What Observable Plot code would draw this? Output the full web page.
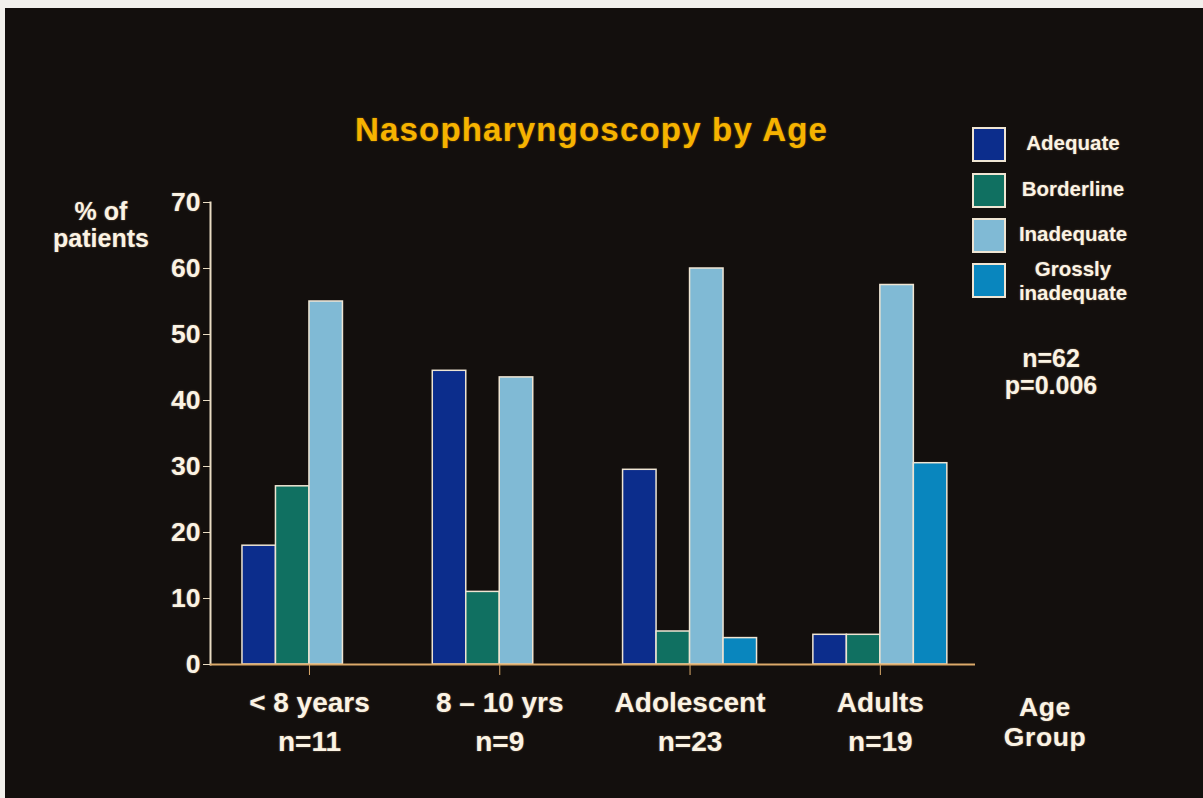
<!DOCTYPE html>
<html>
<head>
<meta charset="utf-8">
<script src="https://cdn.jsdelivr.net/npm/d3@7"></script>
<script src="https://cdn.jsdelivr.net/npm/@observablehq/plot@0.6"></script>
<style>
  html, body { margin: 0; padding: 0; background: #f2f0ec; }
  #page { position: relative; width: 1203px; height: 798px; overflow: hidden;
          font-family: "Liberation Sans", Arial, Helvetica, sans-serif; font-weight: bold; }
  #slide { position: absolute; left: 5px; top: 8px; width: 1198px; height: 790px; background: #130f0d; }
  #chart { position: absolute; left: 0; top: 0; }
  .txt { position: absolute; color: #fbf3e4; text-align: center; white-space: nowrap;
         text-shadow: 0 0 2px rgba(255, 215, 170, 0.45); }
  #title { left: 0; width: 1183px; top: 110px; font-size: 33px; line-height: 40px;
           color: #f6b300; letter-spacing: 1.2px; text-shadow: 0 0 2px rgba(255, 180, 0, 0.5); }
  .sw { position: absolute; left: 972px; width: 30px; height: 31px; border: 2px solid #efe5d3; }
  .lg { position: absolute; left: 1008px; width: 130px; font-size: 20.5px; line-height: 24px; }
  svg text { text-shadow: 0 0 2px rgba(255, 215, 170, 0.45); }
</style>
</head>
<body>
<div id="page">
  <div id="slide"></div>
  <div id="root"></div>
</div>
<script>
// Categories along the x axis and their sample sizes
const groups = ["< 8 years", "8 – 10 yrs", "Adolescent", "Adults"];
const groupN = ["n=11", "n=9", "n=23", "n=19"];

// Outcome series (legend order) and colours
const series = ["Adequate", "Borderline", "Inadequate", "Grossly inadequate"];
const seriesLegend = ["Adequate", "Borderline", "Inadequate", "Grossly\ninadequate"];
const colors = ["#0c2d8c", "#107061", "#80bad5", "#0986be"];

// % of patients per age group, one array per series (null = no bar)
const adequate   = [18, 44.5, 29.5, 4.5];
const borderline = [27, 11, 5, 4.5];
const inadequate = [55, 43.5, 60, 57.5];
const grossly    = [null, null, 4, 30.5];

// y axis ticks
const yTicks = [0, 10, 20, 30, 40, 50, 60, 70];

const seriesValues = [adequate, borderline, inadequate, grossly];
const rows = series.flatMap((s, j) =>
  seriesValues[j].map((v, i) => ({group: i, j, series: s, value: v}))
).filter(d => d.value != null);

// each group is one x unit wide; the four bars sit side by side around its centre
const BAR = 0.176;
const axisColor = "#e9dcc3";
const baseColor = "#dcaa6a";
const textColor = "#fbf3e4";

const chart = Plot.plot({
  width: 1203,
  height: 798,
  marginLeft: 210,
  marginRight: 228,
  marginTop: 202,
  marginBottom: 134,
  style: {
    background: "transparent",
    fontFamily: "'Liberation Sans', Arial, Helvetica, sans-serif",
    fontWeight: "bold",
    color: textColor,
    overflow: "visible"
  },
  x: {type: "linear", domain: [-0.02, 4]},
  y: {domain: [0, 70]},
  color: {domain: series, range: colors},
  marks: [
    Plot.rectY(rows, {
      x1: d => d.group + 0.5 + (d.j - 2) * BAR,
      x2: d => d.group + 0.5 + (d.j - 1) * BAR,
      y1: 0,
      y2: "value",
      fill: "series",
      stroke: "#efe5d3",
      strokeWidth: 1.5
    }),
    Plot.frame({anchor: "left", stroke: axisColor, strokeWidth: 2}),
    Plot.ruleY([0], {stroke: baseColor, strokeWidth: 2.2}),
    Plot.axisY({
      ticks: yTicks,
      tickSize: 7,
      tickPadding: 3,
      fontSize: 26.5,
      stroke: axisColor,
      fill: textColor,
      label: null
    }),
    Plot.axisX({
      ticks: groups.map((g, i) => i + 0.5),
      tickFormat: x => groups[Math.round(x - 0.5)] + "\n" + groupN[Math.round(x - 0.5)],
      tickSize: 11,
      tickPadding: 9,
      fontSize: 28,
      lineHeight: 1.39,
      stroke: baseColor,
      fill: textColor,
      label: null
    })
  ]
});
chart.id = "chart";
document.getElementById("root").appendChild(chart);

// Title, axis captions, legend and statistics as HTML text
const page = document.getElementById("page");
function addText(cls, text, style) {
  const el = document.createElement("div");
  el.className = cls;
  el.innerHTML = text.split("\n").join("<br>");
  Object.assign(el.style, style);
  page.appendChild(el);
  return el;
}

const title = addText("txt", "Nasopharyngoscopy by Age", {});
title.id = "title";

addText("txt", "% of\npatients", {left: "40px", width: "122px", top: "198px", fontSize: "25px", lineHeight: "27px"});
addText("txt", "n=62\np=0.006", {left: "991px", width: "120px", top: "345px", fontSize: "25px", lineHeight: "27px"});
addText("txt", "Age\nGroup", {left: "985px", width: "120px", top: "693px", fontSize: "26.5px", lineHeight: "29.5px", letterSpacing: "0.6px"});

const swatchTops = [127, 173, 218, 263];
series.forEach((s, j) => {
  const sw = document.createElement("div");
  sw.className = "sw";
  sw.style.top = swatchTops[j] + "px";
  sw.style.background = colors[j];
  page.appendChild(sw);
  const lines = seriesLegend[j].split("\n").length;
  const center = swatchTops[j] + 17 + (lines > 1 ? 1 : -1);
  addText("txt lg", seriesLegend[j], {top: (center - lines * 12) + "px"});
});
</script>
</body>
</html>
